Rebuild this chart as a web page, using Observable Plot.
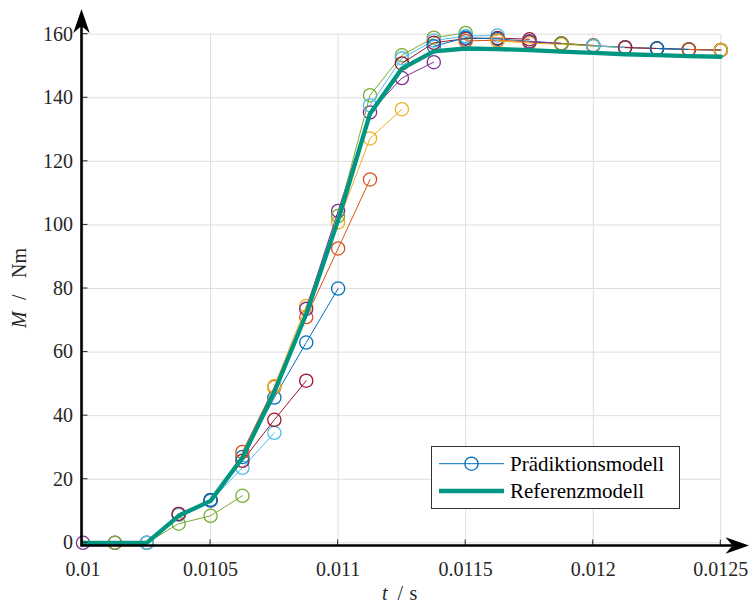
<!DOCTYPE html>
<html><head><meta charset="utf-8">
<script src="https://cdn.jsdelivr.net/npm/d3@7"></script>
<script src="https://cdn.jsdelivr.net/npm/@observablehq/plot@0.6"></script>
<style>body{margin:0;background:#fff} svg{display:block} svg text{font-family:'Liberation Serif','Times New Roman',serif !important;}</style>
</head><body><div id="chart"></div>
<script>
// sample times (s)
const tSamples = [0.01, 0.010125, 0.01025, 0.010375, 0.0105, 0.010625, 0.01075, 0.010875,
  0.011, 0.011125, 0.01125, 0.011375, 0.0115, 0.011625, 0.01175, 0.011875,
  0.012, 0.012125, 0.01225, 0.012375, 0.0125];
// Referenzmodell torque (Nm)
const referenceModel = [0, 0, 0, 8.5, 13.2, 26.8, 47.5, 72, 101.5, 135, 149.2, 154.6,
  155.5, 155.3, 155.0, 154.5, 154.1, 153.7, 153.4, 153.1, 152.9];
// Prädiktionsmodell: each prediction starts at sample index predictionStarts[k]
const predictionStarts = [0,1,2,3,4,5,6,7,8,9,10,11,12,13,14,15,16,17,18,19,20];
const predictions = [
  [0, 0, 0, 9, 13.4],
  [0, 0, 6, 8.5, 14.8],
  [0, 8.8, 13.2, 23.6, 34.6],
  [9.1, 13.4, 25.8, 38.7, 51],
  [13.5, 27, 45.7, 63, 80],
  [28.6, 49, 71, 92.6, 114.3],
  [49.3, 74.5, 100.8, 127.2, 136.4],
  [73.6, 104.4, 135.4, 146.2, 151.2],
  [102.8, 140.8, 153.4, 158.9, 160.4],
  [137.6, 152.4, 158, 159.4, 159.6],
  [150.8, 157.3, 158.6, 158.8, 158.4],
  [156.2, 158.9, 158.5, 157.8, 157.1],
  [157.9, 158.1, 157.6, 157.1, 156.5],
  [157.9, 157.2, 156.8, 156.3, 155.8],
  [157.6, 157.1, 156.4, 155.9, 155.5],
  [157.1, 156.3, 155.8, 155.5, 155.2],
  [156.3, 155.8, 155.5, 155.2, 155.0],
  [155.8, 155.5, 155.2, 155.0],
  [155.5, 155.2, 155.0],
  [155.2, 155.0],
  [155.0]
];
const seriesColors = ["#0072BD", "#D95319", "#EDB120", "#7E2F8E", "#77AC30", "#4DBEEE", "#A2142F"];
const colorOffset = 3;
const referenceColor = "#009682";
const xTicks = [0.01, 0.0105, 0.011, 0.0115, 0.012, 0.0125];
const xTickLabels = ["0.01", "0.0105", "0.011", "0.0115", "0.012", "0.0125"];
const yTicks = [0, 20, 40, 60, 80, 100, 120, 140, 160];
const yTickLabels = ["0", "20", "40", "60", "80", "100", "120", "140", "160"];
const legendLabels = ["Prädiktionsmodell", "Referenzmodell"];
const xLabelParts = ["t", "/", "s"];
const yLabelParts = ["M", "/", "Nm"];

const xLab = new Map(xTicks.map((v, i) => [v, xTickLabels[i]]));
const yLab = new Map(yTicks.map((v, i) => [v, yTickLabels[i]]));

const refRows = tSamples.map((t, i) => ({t, m: referenceModel[i]}));
const predMarks = [];
predictions.forEach((vals, k) => {
  const rows = vals.map((v, i) => ({t: tSamples[predictionStarts[k] + i], m: v}));
  const c = seriesColors[(k + colorOffset) % seriesColors.length];
  predMarks.push(Plot.line(rows, {x: "t", y: "m", stroke: c, strokeWidth: 1}));
  predMarks.push(Plot.dot(rows, {x: "t", y: "m", r: 6.6, stroke: c, strokeWidth: 1.3, fill: "none"}));
});

const FONT = "'Liberation Serif', 'Times New Roman', serif";
const plot = Plot.plot({
  width: 751, height: 605,
  marginLeft: 82.5, marginRight: 30.7, marginTop: 33.7, marginBottom: 59.5,
  style: {fontFamily: FONT, fontSize: "20px", color: "#262626", background: "#fff", overflow: "visible"},
  x: {domain: [0.01, 0.0125]},
  y: {domain: [-1, 160]},
  marks: [
    Plot.gridX(xTicks, {stroke: "#dedede", strokeOpacity: 1, strokeWidth: 1}),
    Plot.gridY(yTicks, {stroke: "#dedede", strokeOpacity: 1, strokeWidth: 1}),
    ...predMarks,
    Plot.line(refRows, {x: "t", y: "m", stroke: referenceColor, strokeWidth: 4.3, strokeLinejoin: "round"}),
    Plot.axisX(xTicks, {tickSize: 0, tickPadding: 16, tickFormat: d => xLab.get(d), label: null}),
    Plot.axisY(yTicks, {tickSize: 0, tickPadding: 10, tickFormat: d => yLab.get(d), label: null})
  ]
});
document.getElementById("chart").appendChild(plot);

const sx = plot.scale("x"), sy = plot.scale("y");
const svg = d3.select(plot);
svg.attr("font-family", FONT);
const x0 = sx.apply(0.01) - 1, yA = sy.apply(-1);
const g = svg.append("g").attr("text-anchor", "start");
// inward ticks
xTicks.forEach(v => g.append("line").attr("x1", sx.apply(v)).attr("x2", sx.apply(v))
  .attr("y1", yA).attr("y2", yA - 6).attr("stroke", "#262626").attr("stroke-width", 1));
yTicks.forEach(v => g.append("line").attr("x1", x0).attr("x2", x0 + 6)
  .attr("y1", sy.apply(v)).attr("y2", sy.apply(v)).attr("stroke", "#262626").attr("stroke-width", 1));
// axis lines with arrows
g.append("line").attr("x1", x0).attr("x2", 740).attr("y1", yA).attr("y2", yA).attr("stroke", "#000").attr("stroke-width", 2.6);
g.append("line").attr("x1", x0).attr("x2", x0).attr("y1", yA + 1.3).attr("y2", 18).attr("stroke", "#000").attr("stroke-width", 2.6);
g.append("path").attr("d", `M${x0},9 L${x0 + 8.2},33 L${x0},26 L${x0 - 8.2},33 Z`).attr("fill", "#000");
g.append("path").attr("d", `M749,${yA} L725.5,${yA - 8.2} L732.5,${yA} L725.5,${yA + 8.2} Z`).attr("fill", "#000");
// axis labels
const xl = g.append("text").attr("y", 600).attr("font-size", 20).attr("fill", "#262626");
xl.append("tspan").attr("x", 382).attr("font-style", "italic").text(xLabelParts[0]);
xl.append("tspan").attr("x", 397.5).text(xLabelParts[1]);
xl.append("tspan").attr("x", 409.5).text(xLabelParts[2]);
const yl = g.append("text").attr("transform", "translate(26,0) rotate(-90)")
  .attr("font-size", 20).attr("fill", "#262626");
yl.append("tspan").attr("x", -328).attr("font-style", "italic").text(yLabelParts[0]);
yl.append("tspan").attr("x", -300).text(yLabelParts[1]);
yl.append("tspan").attr("x", -278).text(yLabelParts[2]);
// legend
const lg = g.append("g");
lg.append("rect").attr("x", 431.5).attr("y", 446.5).attr("width", 248).attr("height", 62)
  .attr("fill", "#fff").attr("stroke", "#333").attr("stroke-width", 1);
lg.append("line").attr("x1", 439).attr("x2", 504).attr("y1", 463.7).attr("y2", 463.7).attr("stroke", "#0072BD").attr("stroke-width", 1);
lg.append("circle").attr("cx", 471.5).attr("cy", 463.7).attr("r", 6.6).attr("fill", "none").attr("stroke", "#0072BD").attr("stroke-width", 1.3);
lg.append("line").attr("x1", 439).attr("x2", 504).attr("y1", 491).attr("y2", 491).attr("stroke", referenceColor).attr("stroke-width", 4.3);
lg.append("text").attr("x", 510).attr("y", 471).attr("text-anchor", "start").attr("font-size", 21).attr("fill", "#000").text(legendLabels[0]);
lg.append("text").attr("x", 510).attr("y", 497.5).attr("text-anchor", "start").attr("font-size", 21).attr("fill", "#000").text(legendLabels[1]);
</script></body></html>
